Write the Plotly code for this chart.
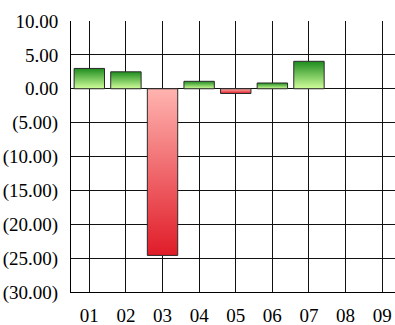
import plotly.graph_objects as go

# Monthly change per period
categories = ["01", "02", "03", "04", "05", "06", "07", "08", "09"]
values = [3.0, 2.5, -24.6, 1.1, -0.7, 0.85, 4.05, 0.0, 0.0]

# Y-axis ticks in accounting style
y_tick_values = [10, 5, 0, -5, -10, -15, -20, -25, -30]
y_tick_labels = ["10.00", "5.00", "0.00", "(5.00)", "(10.00)", "(15.00)",
                 "(20.00)", "(25.00)", "(30.00)"]

BAR_WIDTH = 0.83
POS_SCALE = [[0, "#d2ff9c"], [1, "#1e8c1e"]]
NEG_SCALE = [[0, "#e01c28"], [1, "#ffb4b0"]]
FONT = "Liberation Serif, Times New Roman, Times, serif"

fig = go.Figure()

for i, v in enumerate(values):
    if v == 0:
        continue
    x0, x1 = i - BAR_WIDTH / 2, i + BAR_WIDTH / 2
    fig.add_trace(go.Scatter(
        x=[x0, x1, x1, x0, x0],
        y=[0, 0, v, v, 0],
        mode="lines",
        fill="toself",
        fillgradient=dict(type="vertical",
                          colorscale=POS_SCALE if v > 0 else NEG_SCALE),
        line=dict(color="#2a2a2a", width=1),
        hoverinfo="skip",
        showlegend=False,
    ))

fig.update_layout(
    width=395,
    height=325,
    margin=dict(l=71, r=0, t=21, b=33),
    paper_bgcolor="white",
    plot_bgcolor="white",
    font=dict(family=FONT, size=19, color="#000000"),
    showlegend=False,
)

fig.update_xaxes(
    range=[-0.5, 8.35],
    tickmode="array",
    tickvals=list(range(len(categories))),
    ticktext=categories,
    showgrid=True,
    gridcolor="#111111",
    gridwidth=1,
    zeroline=False,
    showline=True,
    linecolor="#000000",
    linewidth=1,
    ticks="",
    ticklabelstandoff=6,
    tickfont=dict(family=FONT, size=19),
    layer="below traces",
)

fig.update_yaxes(
    range=[-30, 10],
    tickmode="array",
    tickvals=y_tick_values,
    ticktext=y_tick_labels,
    showgrid=True,
    gridcolor="#111111",
    gridwidth=1,
    zeroline=False,
    showline=True,
    linecolor="#000000",
    linewidth=1,
    ticks="",
    ticklabelstandoff=8,
    tickfont=dict(family=FONT, size=19),
)

fig.write_html("out.html")
